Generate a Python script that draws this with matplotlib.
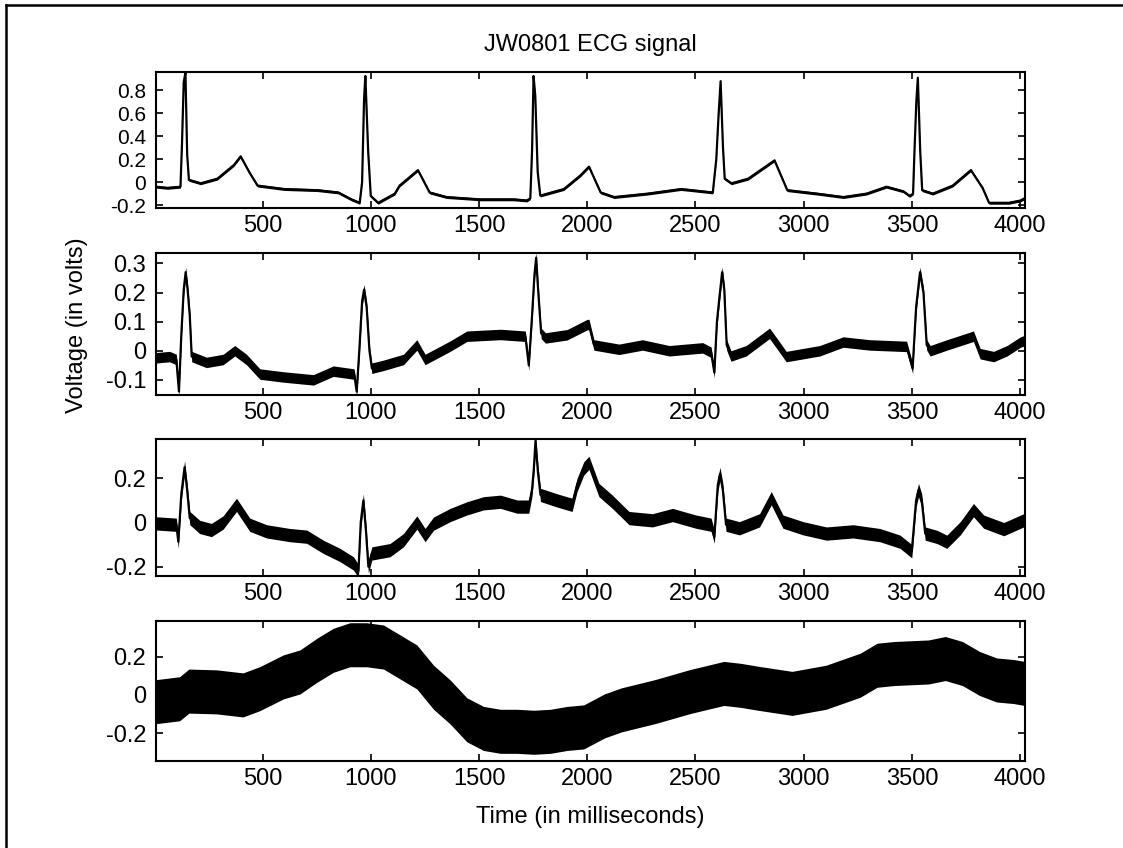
import matplotlib.pyplot as plt
from matplotlib.lines import Line2D
import numpy as np

plt.rcParams['font.family'] = ['Liberation Sans', 'DejaVu Sans']
plt.rcParams['font.size'] = 17

# Lead 1 (time in ms, voltage in V)
t1 = [10, 60, 121, 128, 136, 144, 152, 160, 214, 291, 368, 399, 438, 477, 600, 755, 850, 910,
      949, 960, 969, 975, 988, 1000, 1034, 1111, 1133, 1218, 1272, 1350, 1505, 1660, 1721,
      1737, 1745, 1752, 1760, 1771, 1783, 1892, 1969, 2008, 2062, 2124, 2279, 2433, 2580,
      2596, 2607, 2616, 2627, 2635, 2666, 2743, 2865, 2924, 3061, 3183, 3290, 3382, 3460,
      3489, 3505, 3512, 3520, 3527, 3538, 3547, 3596, 3688, 3772, 3826, 3856, 3948, 4001, 4020]
v1 = [-0.04, -0.05, -0.04, 0.33, 0.87, 0.955, 0.24, 0.02, -0.01, 0.03, 0.15, 0.225, 0.09,
      -0.03, -0.06, -0.07, -0.09, -0.15, -0.18, 0.0, 0.72, 0.925, 0.27, -0.12, -0.18, -0.1,
      -0.03, 0.105, -0.09, -0.13, -0.15, -0.15, -0.16, -0.14, 0.27, 0.925, 0.75, 0.09, -0.117,
      -0.06, 0.06, 0.135, -0.09, -0.13, -0.1, -0.06, -0.09, 0.2, 0.6, 0.88, 0.3, 0.03, -0.01,
      0.03, 0.19, -0.07, -0.1, -0.13, -0.1, -0.04, -0.08, -0.12, -0.1, 0.3, 0.7, 0.91, 0.27,
      -0.07, -0.1, -0.03, 0.105, -0.05, -0.18, -0.18, -0.16, -0.14]

# Lead 2
t2 = [10, 71, 102, 114, 125, 136, 145, 154, 164, 173, 241, 318, 372, 426, 488, 596, 735,
      827, 923, 935, 947, 960, 969, 981, 994, 1005, 1059, 1151, 1213, 1251, 1367, 1444,
      1599, 1714, 1730, 1745, 1756, 1764, 1773, 1787, 1807, 1907, 2000, 2008, 2031, 2147,
      2255, 2379, 2533, 2572, 2587, 2599, 2610, 2623, 2633, 2644, 2664, 2734, 2842, 2881,
      2919, 3074, 3182, 3306, 3475, 3503, 3519, 3537, 3553, 3568, 3584, 3661, 3784, 3815,
      3877, 3939, 4001, 4020]
v2 = [-0.024, -0.02, -0.03, -0.14, 0.056, 0.21, 0.27, 0.21, 0.12, -0.02, -0.04, -0.03, 0.0,
      -0.03, -0.08, -0.09, -0.1, -0.07, -0.08, -0.14, 0.0, 0.17, 0.21, 0.15, 0.0, -0.06,
      -0.05, -0.03, 0.02, -0.03, 0.016, 0.05, 0.056, 0.05, -0.05, 0.12, 0.26, 0.32, 0.21,
      0.06, 0.044, 0.055, 0.09, 0.09, 0.02, 0.005, 0.02, 0.0, 0.01, -0.005, -0.075, 0.1,
      0.18, 0.27, 0.21, 0.02, -0.018, 0.0, 0.06, 0.02, -0.02, 0.0, 0.03, 0.02, 0.015, -0.06,
      0.15, 0.27, 0.2, 0.02, 0.0, 0.02, 0.05, -0.01, -0.02, 0.0, 0.03, 0.035]

# Lead 3
t3 = [10, 102, 111, 125, 140, 151, 164, 210, 264, 318, 380, 441, 519, 627, 704, 781, 858,
      920, 943, 954, 966, 978, 989, 1005, 1089, 1151, 1213, 1251, 1290, 1367, 1444, 1521,
      1599, 1676, 1730, 1745, 1753, 1761, 1772, 1784, 1861, 1930, 1953, 1984, 2008, 2054,
      2116, 2193, 2301, 2394, 2502, 2572, 2587, 2603, 2613, 2626, 2641, 2703, 2796, 2850,
      2904, 2997, 3105, 3228, 3352, 3445, 3499, 3519, 3530, 3545, 3561, 3615, 3661, 3723,
      3784, 3831, 3924, 4016]
v3 = [-0.004, -0.01, -0.087, 0.13, 0.25, 0.155, 0.02, -0.02, -0.034, 0.0, 0.08, -0.01,
      -0.04, -0.057, -0.064, -0.11, -0.147, -0.185, -0.22, 0.004, 0.1, -0.04, -0.2, -0.14,
      -0.125, -0.08, 0.0, -0.057, -0.005, 0.034, 0.064, 0.087, 0.094, 0.072, 0.072, 0.15,
      0.24, 0.37, 0.23, 0.125, 0.1, 0.08, 0.17, 0.245, 0.27, 0.147, 0.094, 0.02, 0.01, 0.034,
      0.004, -0.01, -0.064, 0.17, 0.22, 0.15, -0.01, -0.026, 0.01, 0.11, 0.004, -0.026,
      -0.05, -0.04, -0.057, -0.087, -0.13, 0.1, 0.147, 0.1, -0.05, -0.065, -0.087, -0.026,
      0.056, 0.004, -0.03, 0.01]

# Lead 4
t4 = [10, 117, 160, 287, 410, 488, 596, 673, 750, 827, 904, 981, 1059, 1136, 1213, 1290,
      1367, 1444, 1521, 1599, 1676, 1753, 1830, 1907, 1984, 2079, 2158, 2316, 2473, 2631,
      2709, 2788, 2946, 3103, 3261, 3339, 3418, 3576, 3654, 3733, 3812, 3891, 3969, 4020]
v4 = [-0.035, -0.02, 0.02, 0.016, 0.0, 0.033, 0.094, 0.12, 0.18, 0.233, 0.262, 0.262,
      0.25, 0.198, 0.146, 0.04, -0.037, -0.13, -0.175, -0.19, -0.19, -0.195, -0.19, -0.175,
      -0.167, -0.11, -0.078, -0.034, 0.017, 0.06, 0.05, 0.035, 0.008, 0.04, 0.103, 0.155,
      0.164, 0.172, 0.19, 0.164, 0.112, 0.078, 0.07, 0.06]

# noise half-width of each trace
spread = [0.012, 0.018, 0.03, 0.115]

traces = [(t1, v1), (t2, v2), (t3, v3), (t4, v4)]
ylims = [(-0.225, 0.96), (-0.152, 0.336), (-0.242, 0.378), (-0.345, 0.386)]
yticks = [[-0.2, 0, 0.2, 0.4, 0.6, 0.8], [-0.1, 0, 0.1, 0.2, 0.3], [-0.2, 0, 0.2], [-0.2, 0, 0.2]]
ytick_labels = [['-0.2', '0', '0.2', '0.4', '0.6', '0.8'], ['-0.1', '0', '0.1', '0.2', '0.3'],
                ['-0.2', '0', '0.2'], ['-0.2', '0', '0.2']]
xticks = [500, 1000, 1500, 2000, 2500, 3000, 3500, 4000]

W, H = 1123, 848
fig = plt.figure(figsize=(W / 100, H / 100), dpi=100)

# panel boxes in pixels: top, bottom
boxes = [(72, 208), (253, 395), (439, 576), (621, 761)]
left_px, right_px = 156, 1025

axes = []
for i, (top, bot) in enumerate(boxes):
    ax = fig.add_axes([left_px / W, 1 - bot / H, (right_px - left_px) / W, (bot - top) / H])
    t, v = traces[i]
    t = np.array(t)
    v = np.array(v)
    ax.fill_between(t, v - spread[i], v + spread[i], color='black', lw=0)
    ax.plot(t, v, color='black', lw=1.6)
    ax.set_xlim(8, 4022)
    ax.set_ylim(*ylims[i])
    ax.set_xticks(xticks)
    ax.set_yticks(yticks[i])
    ax.set_yticklabels(ytick_labels[i])
    ax.tick_params(direction='in', top=True, right=True, length=5, width=1.2, pad=5)
    ax.tick_params(axis='y', pad=7)
    if i == 0:
        ax.tick_params(axis='y', labelsize=15)
    for s in ax.spines.values():
        s.set_linewidth(1.5)
    axes.append(ax)

fig.text(590 / W, 1 - 45 / H, 'JW0801 ECG signal', ha='center', va='center', fontsize=17)
fig.text(590 / W, 1 - 817 / H, 'Time (in milliseconds)', ha='center', va='center', fontsize=17)
fig.text(77 / W, 1 - 325 / H, 'Voltage (in volts)', ha='center', va='center',
         rotation=90, fontsize=17)

# outer frame of the scanned figure
fig.add_artist(Line2D([6 / W, 6 / W], [0, 1 - 5 / H], color='black', lw=1.8))
fig.add_artist(Line2D([6 / W, 1], [1 - 5 / H, 1 - 5 / H], color='black', lw=1.8))

fig.savefig('out.png', dpi=100)
